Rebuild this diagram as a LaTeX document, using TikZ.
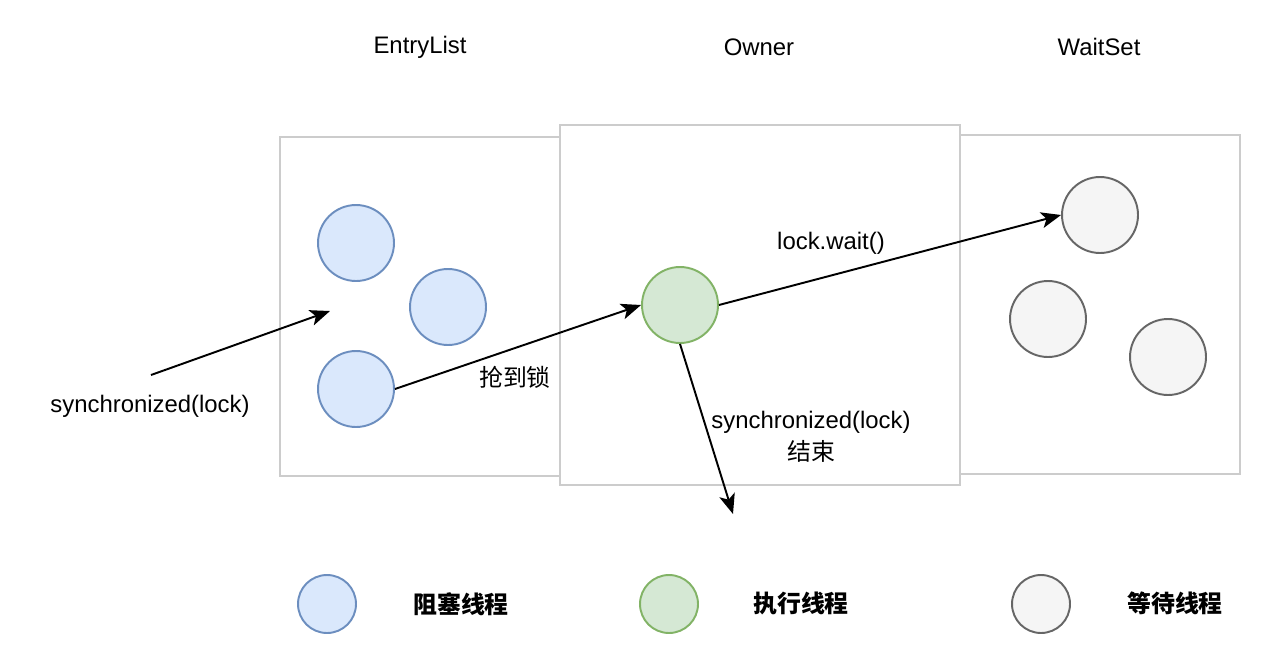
\documentclass[tikz,border=0pt]{standalone}
\usepackage{fontspec}
\setmainfont{Liberation Sans}
\newfontfamily\cjk{Noto Sans CJK SC}
\usetikzlibrary{arrows.meta}
\definecolor{bluefill}{HTML}{DAE8FC}
\definecolor{bluedraw}{HTML}{6C8EBF}
\definecolor{greenfill}{HTML}{D5E8D4}
\definecolor{greendraw}{HTML}{82B366}
\definecolor{grayfill}{HTML}{F5F5F5}
\definecolor{graydraw}{HTML}{666666}
\definecolor{boxline}{HTML}{CCCCCC}
\tikzset{
  zone/.style={draw=boxline, line width=1.1pt, fill=white},
  bth/.style={circle, draw=bluedraw, fill=bluefill, line width=1.1pt, minimum size=1.52cm, inner sep=0pt},
  gth/.style={circle, draw=greendraw, fill=greenfill, line width=1.1pt, minimum size=1.52cm, inner sep=0pt},
  wth/.style={circle, draw=graydraw, fill=grayfill, line width=1.1pt, minimum size=1.52cm, inner sep=0pt},
  small/.style={minimum size=1.16cm},
  lbl/.style={font=\fontsize{13.6}{16}\selectfont, inner sep=0pt, align=center},
  leg/.style={font=\fontsize{13.6}{16}\selectfont\cjk\bfseries, inner sep=0pt},
  conn/.style={line width=1.1pt, -{Stealth[length=0.4cm, width=0.32cm, inset=0.1cm]}}
}
\begin{document}
\begin{tikzpicture}[x=0.02cm, y=-0.02cm]
\useasboundingbox (0,0) rectangle (1267,666);
% zones
\draw[zone] (280,137) rectangle (560,476);
\draw[zone] (960,135) rectangle (1240,474);
\draw[zone] (560,125) rectangle (960,485);
% titles
\node[lbl] (t1) at (420,47) {EntryList};
\node[lbl] (t2) at (759,47) {Owner};
\node[lbl] (t3) at (1099,47) {WaitSet};
% threads
\node[bth] (b1) at (356,243) {};
\node[bth] (b2) at (448,307) {};
\node[bth] (b3) at (356,389) {};
\node[gth] (g) at (680,305) {};
\node[wth] (w1) at (1100,215) {};
\node[wth] (w2) at (1048,319) {};
\node[wth] (w3) at (1168,357) {};
% connectors
\coordinate (s0) at (151,375);
\coordinate (s1) at (330,311);
\coordinate (d1) at (733,514);
\draw[conn] (s0) -- (s1);
\draw[conn] (b3.east) -- (g.west);
\draw[conn] (g.east) -- (w1.west);
\draw[conn] (g.south) -- (d1);
% labels
\node[lbl] (l1) at (150,406) {synchronized(lock)};
\node[lbl] (l2) at (515,377) {\cjk 抢到锁};
\node[lbl] (l3) at (831,243) {lock.wait()};
\node[lbl] (l4) at (811,437) {synchronized(lock)\\[2pt]{\cjk 结束}};
% legend
\node[bth, small] (lb) at (327,604) {};
\node[gth, small] (lg) at (669,604) {};
\node[wth, small] (lw) at (1041,604) {};
\node[leg] (tb) at (461,604) {阻塞线程};
\node[leg] (tg) at (801,603) {执行线程};
\node[leg] (tw) at (1175,603) {等待线程};
\end{tikzpicture}
\end{document}
